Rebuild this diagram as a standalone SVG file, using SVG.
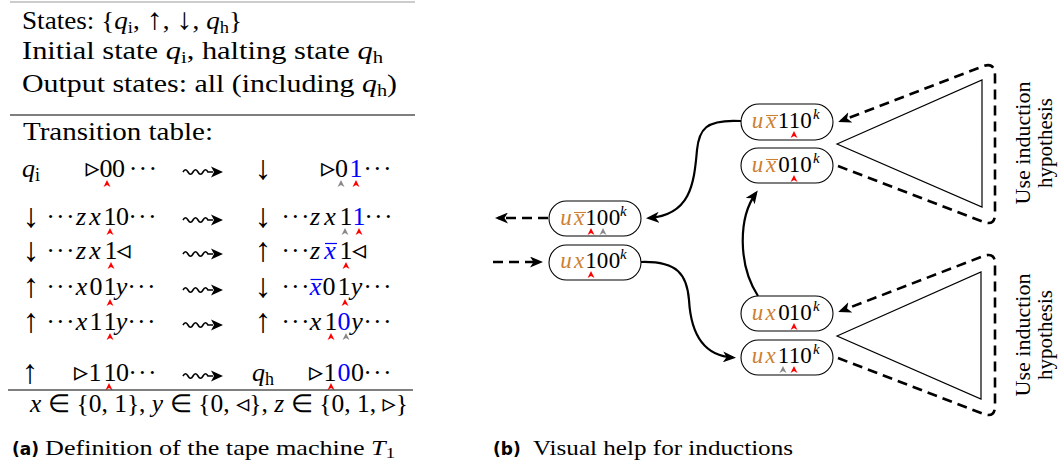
<svg xmlns="http://www.w3.org/2000/svg" width="1061" height="470" viewBox="0 0 1061 470">
<style>
.r{font-family:"Liberation Serif","Times New Roman",serif;font-size:26px;fill:#000}
.t{font-family:"Liberation Serif","Times New Roman",serif;font-size:25px;fill:#000}
.c{text-anchor:middle}
.i{font-style:italic}
.b{fill:#00f}
.s{font-family:"DejaVu Sans",sans-serif;font-size:28px;font-style:normal}
.d{font-family:"Liberation Serif","Times New Roman",serif;font-size:26px;font-style:normal;letter-spacing:1.2px}
.ar{font-family:"Liberation Serif","Times New Roman",serif;font-size:34px;fill:#000;text-anchor:middle}
.hr{fill:#f00}
.hg{fill:#888}
.n{font-family:"Liberation Serif","Times New Roman",serif;font-size:23px;fill:#000;text-anchor:middle}
.o{fill:#cd7f32}
.node{fill:#fff;stroke:#000;stroke-width:1.1}
.solid{fill:none;stroke:#000;stroke-width:2.2}
.dash{fill:none;stroke:#000;stroke-width:2.6;stroke-dasharray:10 6}
.tri{fill:none;stroke:#000;stroke-width:1.2}
.cap{font-family:"Liberation Serif","Times New Roman",serif;font-size:21px;fill:#000}
.capb{font-family:"DejaVu Sans",sans-serif;font-weight:bold;font-size:17px;fill:#000}
.vt{font-family:"Liberation Serif","Times New Roman",serif;font-size:21px;fill:#000}
</style>
<defs>
<path id="hd" d="M0,0 L3.5,7 L0,5 L-3.5,7 Z"/>
<g id="wv"><path d="M0,0 q2.5,-4.5 5,0 t5,0 t5,0 t5,0 t5,0 L30,0" fill="none" stroke="#000" stroke-width="1.6"/><path d="M40,0 L28,-5.5 L31,0 L28,5.5 Z" fill="#000"/></g>
<marker id="ah" viewBox="0 0 13 11" refX="10" refY="5.5" markerWidth="13" markerHeight="11" markerUnits="userSpaceOnUse" orient="auto"><path d="M0,0 L13,5.5 L0,11 L3.5,5.5 Z" fill="#000"/></marker>
</defs>
<rect width="1061" height="470" fill="#fff"/>

<g id="panel-a">
<line x1="10" y1="2" x2="415" y2="2" stroke="#999" stroke-width="1"/>
<text class="t" x="22" y="29" textLength="220" lengthAdjust="spacingAndGlyphs">States: {<tspan class="i">q</tspan><tspan style="font-size:17px" dy="4">i</tspan><tspan dy="-4">, </tspan><tspan style="font-size:30px">↑</tspan>, <tspan style="font-size:30px">↓</tspan>, <tspan class="i">q</tspan><tspan style="font-size:17px" dy="4">h</tspan><tspan dy="-4">}</tspan></text>
<text class="t" x="22" y="59" textLength="361" lengthAdjust="spacingAndGlyphs">Initial state <tspan class="i">q</tspan><tspan style="font-size:17px" dy="4">i</tspan><tspan dy="-4">,  halting state </tspan><tspan class="i">q</tspan><tspan style="font-size:17px" dy="4">h</tspan></text>
<text class="t" x="22" y="92" textLength="375" lengthAdjust="spacingAndGlyphs">Output states: all (including <tspan class="i">q</tspan><tspan style="font-size:17px" dy="4">h</tspan><tspan dy="-4">)</tspan></text>
<line x1="10" y1="115" x2="415" y2="115" stroke="#000" stroke-width="1.2"/>
<text class="t" x="23" y="140" textLength="190" lengthAdjust="spacingAndGlyphs">Transition table:</text>

<!-- row 1 -->
<text class="r" x="22" y="177"><tspan class="i">q</tspan><tspan style="font-size:18px" dy="4">i</tspan></text>
<text class="r c" y="177"><tspan class="s" x="92.5">▹</tspan><tspan x="106">0</tspan><tspan x="118.5">0</tspan><tspan class="d" x="143.5">···</tspan></text>
<use href="#wv" x="183" y="172"/>
<text class="ar" x="263" y="179">↓</text>
<text class="r c" y="177"><tspan class="s" x="328">▹</tspan><tspan x="341.5">0</tspan><tspan class="b" x="356">1</tspan><tspan class="d" x="378">···</tspan></text>
<use href="#hd" x="107" y="180" class="hr"/>
<use href="#hd" x="341" y="180" class="hg"/>
<use href="#hd" x="356" y="180" class="hr"/>

<!-- row 2 -->
<text class="ar" x="31" y="227">↓</text>
<text class="r c" y="225"><tspan class="d" x="61">···</tspan><tspan class="i" x="81">z</tspan><tspan class="i" x="95">x</tspan><tspan x="110">1</tspan><tspan x="122.5">0</tspan><tspan class="d" x="143">···</tspan></text>
<use href="#wv" x="183" y="220"/>
<text class="ar" x="263" y="227">↓</text>
<text class="r c" y="225"><tspan class="d" x="296">···</tspan><tspan class="i" x="315">z</tspan><tspan class="i" x="330">x</tspan><tspan x="346">1</tspan><tspan class="b" x="359">1</tspan><tspan class="d" x="379">···</tspan></text>
<use href="#hd" x="110" y="228" class="hr"/>
<use href="#hd" x="345" y="228" class="hg"/>
<use href="#hd" x="359" y="228" class="hr"/>

<!-- row 3 -->
<text class="ar" x="31" y="261">↓</text>
<text class="r c" y="259"><tspan class="d" x="61">···</tspan><tspan class="i" x="81">z</tspan><tspan class="i" x="95">x</tspan><tspan x="111">1</tspan><tspan class="s" x="123.5">◃</tspan></text>
<use href="#wv" x="183" y="254"/>
<text class="ar" x="263" y="261">↑</text>
<text class="r c" y="259"><tspan class="d" x="296">···</tspan><tspan class="i" x="315">z</tspan><tspan class="i b" x="330">x</tspan><tspan x="346">1</tspan><tspan class="s" x="359">◃</tspan></text>
<line x1="325" y1="243.5" x2="337" y2="243.5" stroke="#00f" stroke-width="1.2"/>
<use href="#hd" x="111" y="262" class="hr"/>
<use href="#hd" x="346" y="262" class="hr"/>

<!-- row 4 -->
<text class="ar" x="31" y="297">↑</text>
<text class="r c" y="295"><tspan class="d" x="61">···</tspan><tspan class="i" x="81.5">x</tspan><tspan x="96">0</tspan><tspan x="110">1</tspan><tspan class="i" x="121.5">y</tspan><tspan class="d" x="142">···</tspan></text>
<use href="#wv" x="183" y="290"/>
<text class="ar" x="263" y="297">↓</text>
<text class="r c" y="295"><tspan class="d" x="296">···</tspan><tspan class="i b" x="315.5">x</tspan><tspan x="329">0</tspan><tspan x="344">1</tspan><tspan class="i" x="356.5">y</tspan><tspan class="d" x="378">···</tspan></text>
<line x1="310.5" y1="279.5" x2="322.5" y2="279.5" stroke="#00f" stroke-width="1.2"/>
<use href="#hd" x="110" y="299" class="hr"/>
<use href="#hd" x="345" y="299" class="hr"/>

<!-- row 5 -->
<text class="ar" x="31" y="332">↑</text>
<text class="r c" y="330"><tspan class="d" x="61">···</tspan><tspan class="i" x="81.5">x</tspan><tspan x="96">1</tspan><tspan x="110">1</tspan><tspan class="i" x="121.5">y</tspan><tspan class="d" x="142">···</tspan></text>
<use href="#wv" x="183" y="325"/>
<text class="ar" x="263" y="332">↑</text>
<text class="r c" y="330"><tspan class="d" x="296">···</tspan><tspan class="i" x="315.5">x</tspan><tspan x="331">1</tspan><tspan class="b" x="344">0</tspan><tspan class="i" x="357">y</tspan><tspan class="d" x="378">···</tspan></text>
<use href="#hd" x="110" y="333" class="hr"/>
<use href="#hd" x="331" y="333" class="hr"/>
<use href="#hd" x="346" y="333" class="hg"/>

<!-- row 6 -->
<text class="ar" x="30" y="383">↑</text>
<text class="r c" y="381"><tspan class="s" x="81">▹</tspan><tspan x="95">1</tspan><tspan x="110">1</tspan><tspan x="122.5">0</tspan><tspan class="d" x="143">···</tspan></text>
<use href="#wv" x="183" y="376"/>
<text class="r" x="252" y="381"><tspan class="i">q</tspan><tspan style="font-size:18px" dy="4">h</tspan></text>
<text class="r c" y="381"><tspan class="s" x="316">▹</tspan><tspan x="330">1</tspan><tspan class="b" x="344">0</tspan><tspan x="357.5">0</tspan><tspan class="d" x="378">···</tspan></text>
<use href="#hd" x="109" y="383" class="hr"/>
<use href="#hd" x="331" y="383" class="hr"/>

<line x1="8" y1="390" x2="413" y2="390" stroke="#000" stroke-width="1.2"/>
<text class="t" x="30" y="412" textLength="378" lengthAdjust="spacingAndGlyphs"><tspan class="i">x</tspan> ∈ {0, 1}, <tspan class="i">y</tspan> ∈ {0, <tspan style="font-family:'DejaVu Sans',sans-serif;font-size:26px">◃</tspan>}, <tspan class="i">z</tspan> ∈ {0, 1, <tspan style="font-family:'DejaVu Sans',sans-serif;font-size:26px">▹</tspan>}</text>

<text class="capb" x="12" y="455">(a)</text>
<text class="cap" x="45" y="455" textLength="350" lengthAdjust="spacingAndGlyphs">Definition of the tape machine <tspan class="i">T</tspan><tspan style="font-size:15px" dy="3">1</tspan></text>
</g>

<g id="panel-b">
<polygon class="tri" points="837,144 982,80 982,207"/>
<polygon class="tri" points="837,336 981,272 981,399"/>

<g id="connectors">
<path class="solid" d="M741,121 C705,119 699,130 697,150 C694,185 690,215 649,218" marker-end="url(#ah)"/>
<path class="solid" d="M641,262 C678,261 687,275 689,300 C691,335 705,356 733,357.5" marker-end="url(#ah)"/>
<path class="solid" d="M758,296 C738,265 738,218 756,193" marker-end="url(#ah)"/>
<path class="dash" d="M548,218 L498,218" marker-end="url(#ah)"/>
<path class="dash" d="M493,262 L540,262" marker-end="url(#ah)"/>
<path class="dash" d="M838,166 L983,221.8 Q995,226.4 995,214 L995,76 Q995,61.6 983,66.2 L841,120.9" marker-end="url(#ah)"/>
<path class="dash" d="M838,358 L983,413.8 Q995,418.4 995,406 L995,264 Q995,251.6 983,256.2 L841,310.9" marker-end="url(#ah)"/>
</g>

<g id="n1">
<rect class="node" x="549" y="201" width="92" height="35" rx="17.5"/>
<text class="n" y="225"><tspan class="i o" x="566">u</tspan><tspan class="i o" x="579">x</tspan><tspan x="591">1</tspan><tspan x="602.5">0</tspan><tspan x="614.5">0</tspan></text>
<text class="n i" x="620" y="216" style="text-anchor:start;font-size:15px">k</text>
<line x1="574" y1="212.5" x2="586" y2="212.5" stroke="#cd7f32" stroke-width="1.1"/>
<use href="#hd" x="591" y="228" class="hr"/>
<use href="#hd" x="603" y="228" class="hg"/>
</g>
<g id="n2">
<rect class="node" x="549" y="245" width="92" height="35" rx="17.5"/>
<text class="n" y="268"><tspan class="i o" x="566">u</tspan><tspan class="i o" x="579">x</tspan><tspan x="591">1</tspan><tspan x="602.5">0</tspan><tspan x="614.5">0</tspan></text>
<text class="n i" x="620" y="259" style="text-anchor:start;font-size:15px">k</text>
<use href="#hd" x="591" y="271" class="hr"/>
</g>
<g id="n3">
<rect class="node" x="741" y="104" width="92" height="36" rx="18"/>
<text class="n" y="128"><tspan class="i o" x="757.5">u</tspan><tspan class="i o" x="771">x</tspan><tspan x="783.5">1</tspan><tspan x="794.5">1</tspan><tspan x="806">0</tspan></text>
<text class="n i" x="813" y="119" style="text-anchor:start;font-size:15px">k</text>
<line x1="766" y1="115.5" x2="778" y2="115.5" stroke="#cd7f32" stroke-width="1.1"/>
<use href="#hd" x="794" y="131" class="hr"/>
</g>
<g id="n4">
<rect class="node" x="741" y="148" width="92" height="35" rx="17.5"/>
<text class="n" y="172"><tspan class="i o" x="757.5">u</tspan><tspan class="i o" x="771">x</tspan><tspan x="784">0</tspan><tspan x="794.5">1</tspan><tspan x="806">0</tspan></text>
<text class="n i" x="813" y="163" style="text-anchor:start;font-size:15px">k</text>
<line x1="766" y1="159.5" x2="778" y2="159.5" stroke="#cd7f32" stroke-width="1.1"/>
<use href="#hd" x="794" y="175" class="hr"/>
</g>
<g id="n5">
<rect class="node" x="741" y="296" width="92" height="35" rx="17.5"/>
<text class="n" y="320"><tspan class="i o" x="757.5">u</tspan><tspan class="i o" x="770.5">x</tspan><tspan x="784">0</tspan><tspan x="794.5">1</tspan><tspan x="806">0</tspan></text>
<text class="n i" x="813" y="311" style="text-anchor:start;font-size:15px">k</text>
<use href="#hd" x="794" y="323" class="hr"/>
</g>
<g id="n6">
<rect class="node" x="741" y="340" width="92" height="35" rx="17.5"/>
<text class="n" y="363"><tspan class="i o" x="757.5">u</tspan><tspan class="i o" x="770.5">x</tspan><tspan x="783.5">1</tspan><tspan x="794.5">1</tspan><tspan x="806">0</tspan></text>
<text class="n i" x="813" y="354" style="text-anchor:start;font-size:15px">k</text>
<use href="#hd" x="783" y="366" class="hg"/>
<use href="#hd" x="794" y="366" class="hr"/>
</g>

<g id="label-top">
<text class="vt" transform="translate(1030,143) rotate(-90)" x="-61.5" y="0" textLength="123" lengthAdjust="spacingAndGlyphs">Use induction</text>
<text class="vt" transform="translate(1052,143) rotate(-90)" x="-45" y="0" textLength="90" lengthAdjust="spacingAndGlyphs">hypothesis</text>
</g>
<g id="label-bottom">
<text class="vt" transform="translate(1030,335) rotate(-90)" x="-61.5" y="0" textLength="123" lengthAdjust="spacingAndGlyphs">Use induction</text>
<text class="vt" transform="translate(1052,335) rotate(-90)" x="-45" y="0" textLength="90" lengthAdjust="spacingAndGlyphs">hypothesis</text>
</g>

<text class="capb" x="493" y="455">(b)</text>
<text class="cap" x="533" y="455" textLength="260" lengthAdjust="spacingAndGlyphs">Visual help for inductions</text>
</g>
</svg>
